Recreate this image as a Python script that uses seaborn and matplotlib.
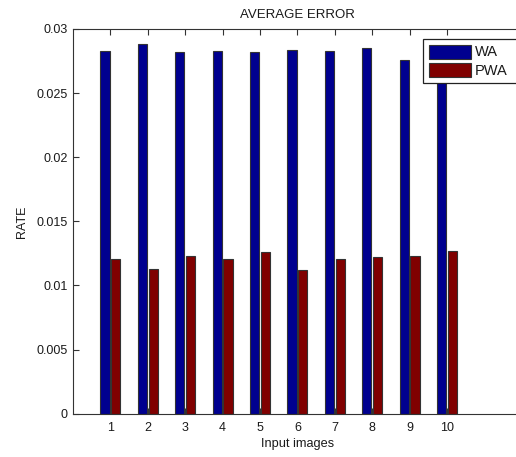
import matplotlib
matplotlib.use("Agg")
import matplotlib.pyplot as plt
import seaborn as sns
import pandas as pd

images = [1, 2, 3, 4, 5, 6, 7, 8, 9, 10]
wa = [0.0283, 0.0288, 0.0282, 0.0283, 0.0282, 0.0284, 0.0283, 0.0285, 0.0276, 0.0283]
pwa = [0.0121, 0.0113, 0.0123, 0.0121, 0.0126, 0.0112, 0.0121, 0.0122, 0.0123, 0.0127]
series = ["WA", "PWA"]
colors = ["#00008F", "#800000"]
yticks = [0, 0.005, 0.01, 0.015, 0.02, 0.025, 0.03]
ytick_labels = ["0", "0.005", "0.01", "0.015", "0.02", "0.025", "0.03"]

df = pd.DataFrame({
    "image": images * 2,
    "rate": wa + pwa,
    "series": [series[0]] * len(images) + [series[1]] * len(images),
})

sns.set_style("ticks")
plt.rcParams["font.family"] = ["Liberation Sans", "DejaVu Sans"]
txt = "#1a1a1a"

fig = plt.figure(figsize=(5.16, 4.57), dpi=100)
ax = fig.add_axes([73 / 516, 1 - 413.7 / 457, (521.8 - 73) / 516, (413.7 - 29) / 457])

sns.barplot(data=df, x="image", y="rate", hue="series", hue_order=series,
            palette=colors, native_scale=True, width=0.58, gap=0.14,
            edgecolor="#333333", linewidth=0.8, saturation=1, ax=ax, legend=True)

ax.set_xlim(0, 12)
ax.set_ylim(0, 0.03)
ax.set_xticks(images)
ax.set_xticklabels([str(i) for i in images])
ax.set_yticks(yticks)
ax.set_yticklabels(ytick_labels)
ax.tick_params(direction="in", length=4, width=0.8, top=True, right=True,
               labelsize=9, colors="#333333", labelcolor=txt)
ax.tick_params(axis="x", pad=6)
ax.tick_params(axis="y", pad=4)
for s in ax.spines.values():
    s.set_visible(True)
    s.set_linewidth(0.8)
    s.set_color("#333333")

ax.set_xlabel("Input images", fontsize=9.2, color=txt, labelpad=3)
ax.set_ylabel("RATE", fontsize=9, color=txt, labelpad=6)
ax.set_title("AVERAGE ERROR", fontsize=9.5, color=txt, pad=8)

leg = ax.legend(loc="upper left", bbox_to_anchor=(423 / 516, 1 - 39 / 457, 0.2, 0),
                bbox_transform=fig.transFigure, mode="expand", fontsize=10.5,
                frameon=True, fancybox=False, shadow=False, borderaxespad=0,
                borderpad=0.38, handlelength=2.9, handleheight=1.1,
                handletextpad=0.3, labelspacing=0.22, edgecolor="#222222",
                framealpha=1)
leg.get_frame().set_linewidth(0.9)
for t in leg.get_texts():
    t.set_color(txt)

fig.savefig("out.png", dpi=100)
